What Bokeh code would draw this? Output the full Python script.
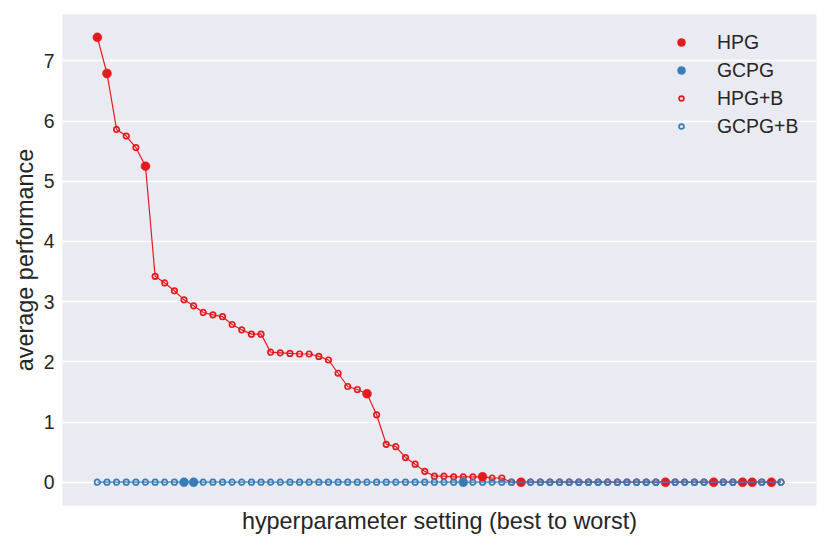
from bokeh.plotting import figure
from bokeh.models import Range1d, FixedTicker, Legend, LegendItem, ColumnDataSource
from bokeh.embed import file_html
from bokeh.resources import INLINE

# ---- data ----
ranks = list(range(1, 73))

hpg_perf = [7.39, 6.79, 5.86, 5.75, 5.56, 5.25, 3.42, 3.31, 3.18, 3.03,
            2.93, 2.82, 2.78, 2.75, 2.62, 2.53, 2.46, 2.46, 2.16, 2.15,
            2.14, 2.13, 2.13, 2.09, 2.03, 1.81, 1.59, 1.54, 1.47, 1.12,
            0.63, 0.59, 0.41, 0.30, 0.18, 0.10, 0.10, 0.09, 0.09, 0.09,
            0.09, 0.07, 0.07, 0.00, 0.00, 0.00, 0.00, 0.00, 0.00, 0.00,
            0.00, 0.00, 0.00, 0.00, 0.00, 0.00, 0.00, 0.00, 0.00, 0.00,
            0.00, 0.00, 0.00, 0.00, 0.00, 0.00, 0.00, 0.00, 0.00, 0.00,
            0.00, 0.00]

gcpg_perf = [0.00, 0.00, 0.00, 0.00, 0.00, 0.00, 0.00, 0.00, 0.00, 0.00,
             0.00, 0.00, 0.00, 0.00, 0.00, 0.00, 0.00, 0.00, 0.00, 0.00,
             0.00, 0.00, 0.00, 0.00, 0.00, 0.00, 0.00, 0.00, 0.00, 0.00,
             0.00, 0.00, 0.00, 0.00, 0.00, 0.00, 0.00, 0.00, 0.00, 0.00,
             0.00, 0.00, 0.00, 0.00, 0.00, 0.00, 0.00, 0.00, 0.00, 0.00,
             0.00, 0.00, 0.00, 0.00, 0.00, 0.00, 0.00, 0.00, 0.00, 0.00,
             0.00, 0.00, 0.00, 0.00, 0.00, 0.00, 0.00, 0.00, 0.00, 0.00,
             0.00, 0.00]

# ranks of the settings without baseline (filled markers)
hpg_plain_ranks = [1, 2, 6, 29, 41, 45, 60, 65, 68, 69, 71]
gcpg_plain_ranks = [10, 11, 39]

series_names = ["HPG", "GCPG", "HPG+B", "GCPG+B"]
y_ticks = [0, 1, 2, 3, 4, 5, 6, 7]

RED = "#E41A1C"
BLUE = "#377EB8"
TXT = "#262626"
FONT = "Liberation Sans"


def split(perf, plain):
    f = dict(x=[], y=[])
    o = dict(x=[], y=[])
    for r, v in zip(ranks, perf):
        d = f if r in plain else o
        d["x"].append(r)
        d["y"].append(v)
    return ColumnDataSource(f), ColumnDataSource(o)


hpg_f, hpg_o = split(hpg_perf, hpg_plain_ranks)
gc_f, gc_o = split(gcpg_perf, gcpg_plain_ranks)

p = figure(width=830, height=549, output_backend="svg", toolbar_location=None,
           x_range=Range1d(-2.62, 75.68), y_range=Range1d(-0.387, 7.77),
           min_border_left=62, min_border_right=14, min_border_top=14,
           min_border_bottom=44)

p.background_fill_color = "#EAEAF2"
p.border_fill_color = "white"
p.outline_line_color = None

p.xgrid.grid_line_color = None
p.ygrid.grid_line_color = "white"
p.ygrid.grid_line_width = 1.5
p.ygrid.ticker = FixedTicker(ticks=y_ticks)

# y axis
p.yaxis.ticker = FixedTicker(ticks=y_ticks)
p.yaxis.axis_line_color = None
p.yaxis.major_tick_line_color = None
p.yaxis.minor_tick_line_color = None
p.yaxis.major_tick_out = 0
p.yaxis.major_label_standoff = 8
p.yaxis.major_label_text_font = FONT
p.yaxis.major_label_text_font_size = "19.4px"
p.yaxis.major_label_text_color = TXT
p.yaxis.axis_label = "average performance"
p.yaxis.axis_label_text_font = FONT
p.yaxis.axis_label_text_font_size = "23.4px"
p.yaxis.axis_label_text_font_style = "normal"
p.yaxis.axis_label_text_color = TXT
p.yaxis.axis_label_standoff = 3

# x axis
p.xaxis.ticker = FixedTicker(ticks=[])
p.xaxis.axis_line_color = None
p.xaxis.major_tick_line_color = None
p.xaxis.minor_tick_line_color = None
p.xaxis.major_tick_out = 0
p.xaxis.major_label_text_font_size = "1px"
p.xaxis.axis_label = "hyperparameter setting (best to worst)"
p.xaxis.axis_label_text_font = FONT
p.xaxis.axis_label_text_font_size = "23.4px"
p.xaxis.axis_label_text_font_style = "normal"
p.xaxis.axis_label_text_color = TXT
p.xaxis.axis_label_standoff = 2

# markers
r_hpg_o = p.scatter("x", "y", source=hpg_o, size=5.5, fill_color=None,
                    line_color=RED, line_width=1.7)
r_gc_o = p.scatter("x", "y", source=gc_o, size=5.5, fill_color=None,
                   line_color=BLUE, line_width=1.7)
r_gc_f = p.scatter("x", "y", source=gc_f, size=9, fill_color=BLUE,
                   line_color=BLUE, line_width=0.5)
r_hpg_f = p.scatter("x", "y", source=hpg_f, size=9, fill_color=RED,
                    line_color=RED, line_width=0.5)

# lines
p.line(ranks, hpg_perf, line_color=RED, line_width=1.2)
p.line(ranks, gcpg_perf, line_color=BLUE, line_width=1.2)


# legends (two, so that filled and hollow markers get different sizes)
def make_legend(names, renderers, loc, glyph_h):
    lg = Legend(items=[LegendItem(label=n, renderers=[r])
                       for n, r in zip(names, renderers)], location=loc)
    lg.border_line_color = None
    lg.background_fill_alpha = 0
    lg.padding = 0
    lg.margin = 0
    lg.spacing = 0
    lg.glyph_width = 40
    lg.glyph_height = glyph_h
    lg.label_height = 28
    lg.label_standoff = 16
    lg.label_text_font = FONT
    lg.label_text_font_size = "19.4px"
    lg.label_text_color = TXT
    return lg


p.add_layout(make_legend(series_names[:2], [r_hpg_f, r_gc_f], (599, 421), 20))
p.add_layout(make_legend(series_names[2:], [r_hpg_o, r_gc_o], (599, 365), 12))

open("out.html", "w").write(file_html(p, INLINE))
